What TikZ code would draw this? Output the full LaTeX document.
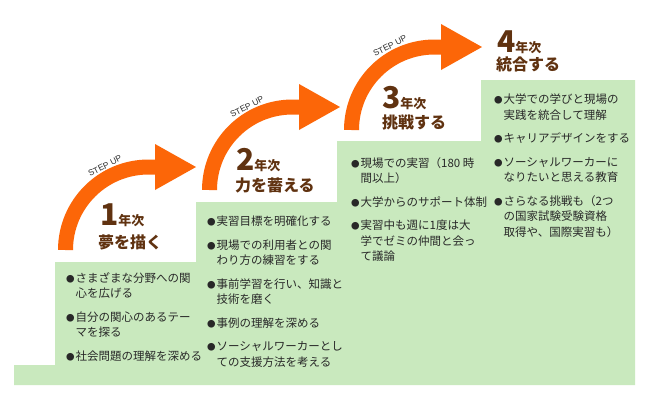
\documentclass[tikz,border=0pt]{standalone}
\usepackage{fontspec}
\setmainfont{Noto Sans CJK JP}
\newfontfamily\stepupfont{Liberation Sans}
\definecolor{stepgreen}{RGB}{201,233,190}
\definecolor{arroworange}{RGB}{252,102,8}
\definecolor{headbrown}{RGB}{96,50,16}
\definecolor{bodytext}{RGB}{40,40,40}
\definecolor{steptext}{RGB}{45,45,45}
\newcommand\bul{\makebox[9.5pt][l]{\fontsize{8.5}{8.5}\selectfont ●}}
\newcommand\ind{\hspace*{9.5pt}}
\newcommand\yr[2]{{\fontsize{30}{30}\selectfont #1}{\fontsize{13}{13}\selectfont #2}}
\tikzset{
  band/.style={draw=arroworange, line width=15pt},
  arrowhead/.style={fill=arroworange},
  stepup/.style={font=\stepupfont\fontsize{8.5}{9}\selectfont, text=steptext, inner sep=0, rotate=27},
  heading/.style={font=\bfseries, text=headbrown, inner sep=0, anchor=base west},
  headline/.style={font=\bfseries\fontsize{16}{16}\selectfont, text=headbrown, inner sep=0, anchor=base west},
  body/.style={font=\fontsize{11.5}{15.5}\selectfont, text=bodytext, inner sep=0, anchor=north west, align=left}
}
\begin{document}
\begin{tikzpicture}[x=1pt,y=-1pt]
\useasboundingbox (0,0) rectangle (650,400);
\fill[white] (0,0) rectangle (650,400);
% staircase
\fill[stepgreen] (14,385) -- (14,365) -- (55,365) -- (55,262) -- (196,262) -- (196,202)
  -- (337,202) -- (337,141) -- (481,141) -- (481,80) -- (635,80) -- (635,385) -- cycle;
% arrows
\draw[band] (65.5,250) arc[start angle=180,end angle=270,radius=83] -- (156,167);
\fill[arrowhead] (155,144) -- (196,167) -- (155,190) -- cycle;
\draw[band] (209.5,190) arc[start angle=180,end angle=270,radius=83] -- (300,107);
\fill[arrowhead] (299,84) -- (340,107) -- (299,130) -- cycle;
\draw[band] (351.5,130) arc[start angle=180,end angle=270,radius=83] -- (442,47);
\fill[arrowhead] (441,24) -- (482,47) -- (441,70) -- cycle;
\node[stepup] (s1) at (105,166) {STEP UP};
\node[stepup] (s2) at (247,107) {STEP UP};
\node[stepup] (s3) at (390,46) {STEP UP};
% headings
\node[heading] (y1) at (100,225) {\yr{1}{年次}};
\node[headline] (t1) at (98,248) {夢を描く};
\node[heading] (y2) at (236,170) {\yr{2}{年次}};
\node[headline] (t2) at (235,191) {力を蓄える};
\node[heading] (y3) at (382,108) {\yr{3}{年次}};
\node[headline] (t3) at (382,128) {挑戦する};
\node[heading] (y4) at (497,52) {\yr{4}{年次}};
\node[headline] (t4) at (496,70) {統合する};
% lists
\node[body] (l1) at (66,272) {\bul さまざまな分野への関\\\ind 心を広げる\\[8pt]\bul 自分の関心のあるテー\\\ind マを探る\\[8pt]\bul 社会問題の理解を深める};
\node[body] (l2) at (207,216) {\bul 実習目標を明確化する\\[8pt]\bul 現場での利用者との関\\\ind わり方の練習をする\\[8pt]\bul 事前学習を行い、知識と\\\ind 技術を磨く\\[8pt]\bul 事例の理解を深める\\[8pt]\bul ソーシャルワーカーとし\\\ind ての支援方法を考える};
\node[body] (l3) at (351,157) {\bul 現場での実習（180 時\\\ind 間以上）\\[8pt]\bul 大学からのサポート体制\\[8pt]\bul 実習中も週に1度は大\\\ind 学でゼミの仲間と会っ\\\ind て議論};
\node[body] (l4) at (494,94) {\bul 大学での学びと現場の\\\ind 実践を統合して理解\\[8pt]\bul キャリアデザインをする\\[8pt]\bul ソーシャルワーカーに\\\ind なりたいと思える教育\\[8pt]\bul さらなる挑戦も（2つ\\\ind の国家試験受験資格\\\ind 取得や、国際実習も）};
\end{tikzpicture}
\end{document}
